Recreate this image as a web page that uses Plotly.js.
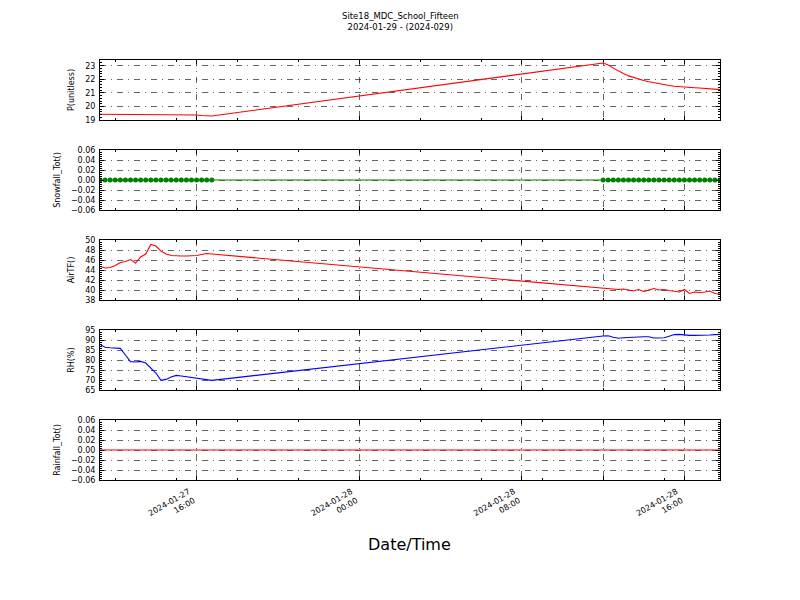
<!DOCTYPE html>
<html><head><meta charset="utf-8">
<script src="https://cdn.plot.ly/plotly-3.0.1.min.js"></script>
<style>body{margin:0;background:#fff}</style>
</head><body><div id="chart" style="width:800px;height:600px"></div>
<script>
const times = [
 '2024-01-27 11:15','2024-01-27 11:30','2024-01-27 11:45','2024-01-27 12:00','2024-01-27 12:15','2024-01-27 12:30',
 '2024-01-27 12:45','2024-01-27 13:00','2024-01-27 13:15','2024-01-27 13:30','2024-01-27 13:45','2024-01-27 14:00',
 '2024-01-27 14:15','2024-01-27 14:30','2024-01-27 14:45','2024-01-27 15:00','2024-01-27 15:15','2024-01-27 15:30',
 '2024-01-27 15:45','2024-01-27 16:00','2024-01-27 16:15','2024-01-27 16:30','2024-01-27 16:45',
 '2024-01-28 12:00','2024-01-28 12:15','2024-01-28 12:30','2024-01-28 12:45','2024-01-28 13:00','2024-01-28 13:15',
 '2024-01-28 13:30','2024-01-28 13:45','2024-01-28 14:00','2024-01-28 14:15','2024-01-28 14:30','2024-01-28 14:45',
 '2024-01-28 15:00','2024-01-28 15:15','2024-01-28 15:30','2024-01-28 15:45','2024-01-28 16:00','2024-01-28 16:15',
 '2024-01-28 16:30','2024-01-28 16:45','2024-01-28 17:00','2024-01-28 17:15','2024-01-28 17:30','2024-01-28 17:45'
];
const pressure = [
 19.42,19.42,19.42,19.42,19.42,19.42,19.42,19.42,19.42,19.42,19.42,19.42,
 19.37,19.37,19.37,19.37,19.37,19.37,19.37,19.37,19.33,19.30,19.30,
 23.20,23.05,22.82,22.60,22.42,22.25,22.12,22.00,21.91,21.82,21.74,21.66,
 21.60,21.54,21.49,21.45,21.41,21.39,21.38,21.36,21.34,21.31,21.27,21.24
];
const snowfall = [
 0,0,0,0,0,0,0,0,0,0,0,0,0,0,0,0,0,0,0,0,0,0,0,
 0,0,0,0,0,0,0,0,0,0,0,0,0,0,0,0,0,0,0,0,0,0,0,0
];
const airTF = [
 44.7,44.4,44.5,44.9,45.5,45.7,46.1,45.4,46.6,47.2,49.1,48.8,
 47.8,47.2,46.9,46.8,46.8,46.8,46.8,46.9,47.1,47.3,47.2,
 40.3,40.2,40.2,40.1,40.2,40.0,39.8,40.1,39.7,40.0,40.3,40.0,
 40.1,39.9,39.8,39.6,40.1,39.3,39.6,39.5,39.6,39.8,39.3,39.2
];
const rh = [
 87.8,86.4,86.1,86.0,85.8,82.5,79.2,79.0,79.3,78.5,75.8,73.5,
 69.8,70.3,71.5,72.3,72.0,71.6,71.5,70.8,70.4,70.3,69.8,
 92.0,92.1,91.4,90.9,91.1,91.3,91.3,91.5,91.6,91.6,91.0,91.0,
 91.1,91.9,92.7,92.8,92.5,92.3,92.3,92.3,92.4,92.5,92.7,92.8
];
const rainfall = [
 0,0,0,0,0,0,0,0,0,0,0,0,0,0,0,0,0,0,0,0,0,0,0,
 0,0,0,0,0,0,0,0,0,0,0,0,0,0,0,0,0,0,0,0,0,0,0,0
];
const xTickVals = ['2024-01-27 16:00','2024-01-28 00:00','2024-01-28 08:00','2024-01-28 12:00','2024-01-28 16:00'];
const xTickText = ['2024-01-27<br>16:00','2024-01-28<br>00:00','2024-01-28<br>08:00','','2024-01-28<br>16:00'];
const xRange = ['2024-01-27 11:15','2024-01-28 17:45'];
const panelTitles = ['P(unitless)','Snowfall_Tot()','AirTF()','RH(%)','Rainfall_Tot()'];
const yRanges = [[19,23.42],[-0.06,0.06],[38,50],[65,95],[-0.06,0.06]];
const yDticks = [1,0.02,2,5,0.02];
const yMinor = [0.2,0.004,0.4,1,0.004];
const yFormats = ['d','.2f','d','d','.2f'];
const chartTitle = 'Site18_MDC_School_Fifteen<br>2024-01-29 - (2024-029)';

const FONT = 'DejaVu Sans, sans-serif';
const GRID = '6px,5px,1px,5px';
const domains = [[0.8,0.9],[0.65,0.75],[0.5,0.6],[0.35,0.45],[0.2,0.3]];

const series = [
 {y: pressure, color:'#ff0000', mode:'lines'},
 {y: snowfall, color:'#008000', mode:'lines+markers'},
 {y: airTF, color:'#ff0000', mode:'lines'},
 {y: rh, color:'#0000ff', mode:'lines'},
 {y: rainfall, color:'#ff0000', mode:'lines'}
];

const data = series.map((s,i)=>({
  type:'scatter', x: times, y: s.y, mode: s.mode,
  xaxis: i===0?'x':'x'+(i+1), yaxis: i===0?'y':'y'+(i+1),
  line:{color:s.color, width:1.1},
  marker:{color:s.color, size:5, line:{width:0}},
  showlegend:false, hoverinfo:'skip'
}));

const layout = {
  width:800, height:600,
  margin:{l:0,r:0,t:0,b:0},
  paper_bgcolor:'#fff', plot_bgcolor:'#fff',
  font:{family:FONT, size:8, color:'#000'},
  showlegend:false,
  annotations:[
    {text: chartTitle, x:0.5, y:1-21.5/600, xref:'paper', yref:'paper', showarrow:false,
     xanchor:'center', yanchor:'middle', font:{family:FONT, size:8.5, color:'#000'}},
    {text:'Date/Time', x:0.5125, y:1-544/600, xref:'paper', yref:'paper', showarrow:false,
     xanchor:'center', yanchor:'middle', font:{family:FONT, size:16, color:'#000'}}
  ]
};

for (let i=0;i<5;i++){
  const xk = i===0?'xaxis':'xaxis'+(i+1);
  const yk = i===0?'yaxis':'yaxis'+(i+1);
  const ya = i===0?'y':'y'+(i+1);
  const xa = i===0?'x':'x'+(i+1);
  layout[xk] = {
    type:'date', domain:[0.125,0.9], anchor: ya, range: xRange,
    tickmode:'array', tickvals: xTickVals, ticktext: xTickText,
    showticklabels: i===4, tickangle:-30,
    ticklabelshift:-8, ticklabelstandoff:3,
    tickfont:{family:FONT, size:8, color:'#000'},
    ticks:'inside', ticklen:4, tickcolor:'#000', tickwidth:1,
    showline:true, linecolor:'#000', linewidth:1, mirror:'allticks',
    showgrid:true, gridcolor:'#000', gridwidth:0.6, griddash: GRID,
    zeroline:false, fixedrange:true,
    minor:{ticks:'inside', ticklen:2, tickcolor:'#000', tick0:'2024-01-27 00:00', dtick:3*3600*1000, showgrid:false}
  };
  layout[yk] = {
    domain: domains[i], anchor: xa, range: yRanges[i],
    tickmode:'linear', tick0: yRanges[i][0], dtick: yDticks[i], tickformat: yFormats[i],
    tickfont:{family:FONT, size:8, color:'#000'},
    ticklabelstandoff:2,
    ticks:'inside', ticklen:4, tickcolor:'#000', tickwidth:1,
    showline:true, linecolor:'#000', linewidth:1, mirror:'allticks',
    showgrid:true, gridcolor:'#000', gridwidth:0.6, griddash: GRID,
    zeroline:false, fixedrange:true,
    title:{text: panelTitles[i], font:{family:FONT, size:8, color:'#000'}, standoff:9},
    minor:{ticks:'inside', ticklen:2, tickcolor:'#000', dtick: yMinor[i], showgrid:false}
  };
}

Plotly.newPlot('chart', data, layout, {displayModeBar:false, staticPlot:true});
</script>
</body></html>
